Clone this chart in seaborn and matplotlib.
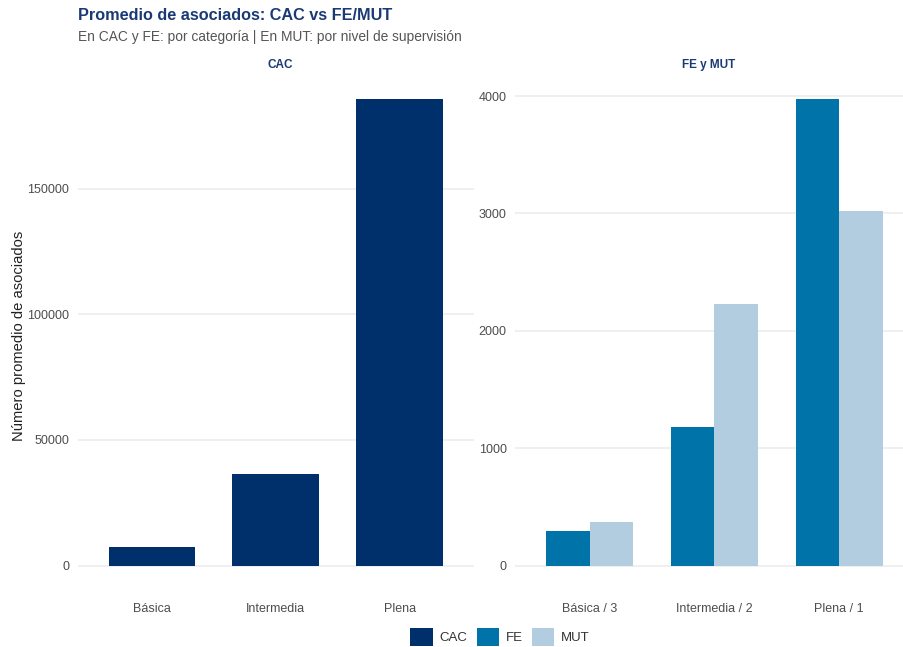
import matplotlib
matplotlib.use("Agg")
import matplotlib.pyplot as plt
from matplotlib.patches import Patch
import seaborn as sns
import pandas as pd

# ---- data ----
cac_categories = ["Básica", "Intermedia", "Plena"]
cac_values = [7600, 36300, 185500]

femut_categories = ["Básica / 3", "Intermedia / 2", "Plena / 1"]
fe_values = [298, 1180, 3972]
mut_values = [369, 2232, 3019]

series_names = ["CAC", "FE", "MUT"]
colors = {"CAC": "#00306B", "FE": "#0074A8", "MUT": "#B3CDE0"}

cac_ticks = [0, 50000, 100000, 150000]
femut_ticks = [0, 1000, 2000, 3000, 4000]

df_cac = pd.DataFrame({"cat": cac_categories, "val": cac_values, "serie": "CAC"})
df_fm = pd.DataFrame({
    "cat": femut_categories * 2,
    "val": fe_values + mut_values,
    "serie": ["FE"] * 3 + ["MUT"] * 3,
})

sns.set_theme(style="white")
plt.rcParams["font.family"] = ["Liberation Sans", "DejaVu Sans"]

W, H = 904, 647
fig = plt.figure(figsize=(W / 100, H / 100), dpi=100)

def fx(px):
    return px / W

def fy(py):
    return 1 - py / H

top_px, bot_px = 76, 589
ax1 = fig.add_axes([fx(77.6), fy(bot_px), fx(474 - 77.6), (bot_px - top_px) / H])
ax2 = fig.add_axes([fx(515), fy(bot_px), fx(914 - 515), (bot_px - top_px) / H])

sns.barplot(data=df_cac, x="cat", y="val", color=colors["CAC"], width=0.7,
            ax=ax1, saturation=1, errorbar=None)
sns.barplot(data=df_fm, x="cat", y="val", hue="serie", palette=colors,
            width=0.7, ax=ax2, saturation=1, errorbar=None, legend=False)

grid_c = "#EBEBEB"
tick_c = "#4D4D4D"
for ax, ticks, vmax in [(ax1, cac_ticks, max(cac_values)),
                        (ax2, femut_ticks, max(fe_values + mut_values))]:
    ax.set_xlim(-0.6, 2.6)
    ax.set_ylim(-0.05 * vmax, 1.05 * vmax)
    ax.set_yticks(ticks)
    ax.set_yticklabels([str(t) for t in ticks])
    ax.yaxis.grid(True, color=grid_c, linewidth=1.1)
    ax.xaxis.grid(False)
    ax.set_axisbelow(True)
    for s in ax.spines.values():
        s.set_visible(False)
    ax.tick_params(axis="both", length=0, labelsize=9, labelcolor=tick_c, pad=6)
    ax.tick_params(axis="x", pad=10)
    ax.set_xlabel("")
    ax.set_ylabel("")
    for p in ax.patches:
        p.set_edgecolor("none")

ax1.set_ylabel("Número promedio de asociados", fontsize=10.6, color="#222222")
ax1.yaxis.set_label_coords(fx(26), fy(336), transform=fig.transFigure)

navy = "#1A3A75"
fig.text(fx(280), fy(65), "CAC", ha="center", va="center", fontsize=8.5,
         fontweight="bold", color=navy)
fig.text(fx(709), fy(65), "FE y MUT", ha="center", va="center", fontsize=8.5,
         fontweight="bold", color=navy)

fig.text(fx(78), fy(15), "Promedio de asociados: CAC vs FE/MUT", ha="left",
         va="center", fontsize=11.7, fontweight="bold", color=navy)
fig.text(fx(78), fy(37), "En CAC y FE: por categoría | En MUT: por nivel de supervisión",
         ha="left", va="center", fontsize=9.9, color="#555555")

handles = [Patch(facecolor=colors[n], edgecolor="none", label=n) for n in series_names]
fig.legend(handles=handles, loc="center", bbox_to_anchor=(fx(500), fy(637)),
           ncol=3, frameon=False, fontsize=9.5, handlelength=1.7, handleheight=1.7,
           columnspacing=0.7, handletextpad=0.5, labelcolor="#333333")

fig.savefig("out.png", dpi=100, facecolor="white")
